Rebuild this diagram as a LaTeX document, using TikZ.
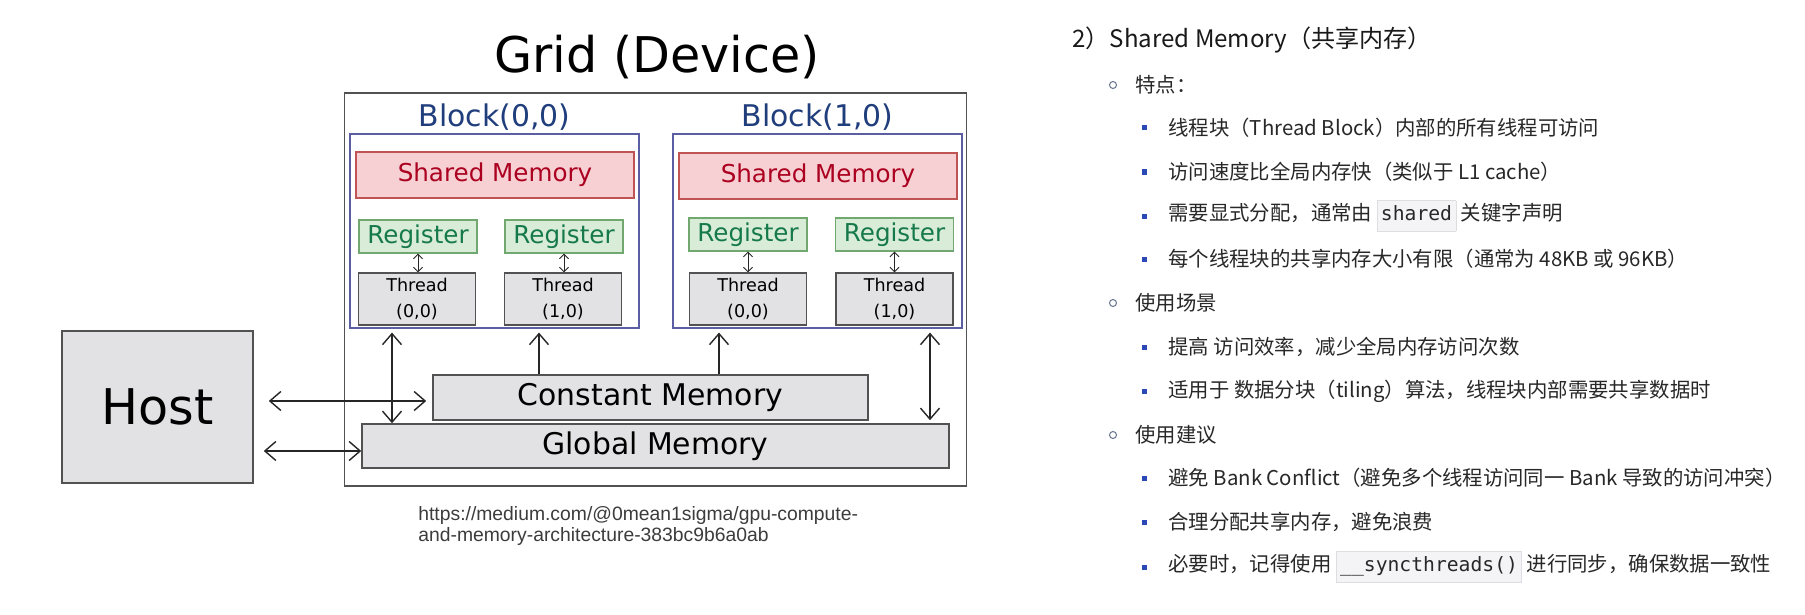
\documentclass[tikz,border=0pt]{standalone}
\usepackage{fontspec}
\usetikzlibrary{arrows.meta, positioning, calc}
\setmainfont{DejaVu Sans}
\newfontfamily\cjkfont{Noto Sans CJK SC}
\newfontfamily\urlfont{Liberation Sans}
\newfontfamily\codefont{DejaVu Sans Mono}

\definecolor{blockblue}{RGB}{92, 94, 164}
\definecolor{labelblue}{RGB}{32, 62, 124}
\definecolor{shfill}{RGB}{246, 208, 210}
\definecolor{shline}{RGB}{192, 84, 84}
\definecolor{shtext}{RGB}{172, 0, 32}
\definecolor{regfill}{RGB}{216, 236, 216}
\definecolor{regline}{RGB}{112, 168, 112}
\definecolor{regtext}{RGB}{22, 122, 72}
\definecolor{memfill}{RGB}{226, 226, 228}
\definecolor{memline}{RGB}{82, 82, 82}
\definecolor{bullblue}{RGB}{42, 72, 182}
\definecolor{ringgray}{RGB}{110, 122, 150}
\definecolor{codebg}{RGB}{244, 244, 246}
\definecolor{codeline}{RGB}{222, 222, 226}
\definecolor{bodytext}{RGB}{40, 40, 40}
\definecolor{urlgray}{RGB}{60, 60, 60}

\newcommand{\codechip}[1]{{\setlength{\fboxsep}{2pt}\fcolorbox{codeline}{codebg}{\codefont\fontsize{11.2}{13}\selectfont\strut #1}}}

\tikzset{
  gridbox/.style={draw=memline, line width=0.9pt, minimum width=12.44cm, minimum height=7.86cm, inner sep=0pt},
  blockbox/.style={draw=blockblue, line width=0.7pt, minimum width=5.78cm, minimum height=3.88cm, inner sep=0pt},
  blocklabel/.style={text=labelblue, font=\fontsize{17}{20}\selectfont, inner sep=0pt},
  sharedbox/.style={draw=shline, fill=shfill, line width=0.8pt, minimum width=5.56cm, minimum height=0.92cm, text=shtext, font=\fontsize{14}{16}\selectfont, inner sep=0pt},
  regbox/.style={draw=regline, fill=regfill, line width=0.8pt, minimum width=2.36cm, minimum height=0.66cm, text=regtext, font=\fontsize{14}{16}\selectfont, inner sep=0pt},
  threadbox/.style={draw=memline, fill=memfill, line width=0.8pt, minimum width=2.34cm, minimum height=1.04cm, align=center, font=\fontsize{10}{15}\selectfont, inner sep=0pt},
  membox/.style={draw=memline, fill=memfill, line width=0.9pt, minimum height=0.9cm, font=\fontsize{17}{20}\selectfont, inner sep=0pt},
  link/.style={line width=0.8pt, draw=black!85, >={Straight Barb[length=2.2mm,width=3.8mm]}},
  tinylink/.style={line width=0.5pt, draw=black!85, >={Straight Barb[length=0.9mm,width=1.8mm]}},
  ring/.style={circle, draw=ringgray, line width=0.6pt, minimum size=0.14cm, inner sep=0pt},
  square/.style={rectangle, fill=bullblue, minimum size=0.1cm, inner sep=0pt},
  itemtext/.style={anchor=west, text=bodytext, font=\cjkfont\fontsize{11.6}{14}\selectfont, inner sep=0pt},
}

\begin{document}
\begin{tikzpicture}
  \fill[white] (0,0) rectangle (36.1,-12.3);
  \useasboundingbox (0,0) rectangle (36.1,-12.3);

  % Title
  \node[anchor=base, font=\fontsize{28}{32}\selectfont, inner sep=0pt] (title) at (13.14,-1.46) {Grid (Device)};

  % Device and blocks
  \node[gridbox] (grid) at (13.11,-5.79) {};
  \node[blockbox] (blk00) at (9.89,-4.62) {};
  \node[blockbox] (blk10) at (16.35,-4.62) {};
  \node[blocklabel] (lbl00) at (9.89,-2.34) {Block(0,0)};
  \node[blocklabel] (lbl10) at (16.35,-2.34) {Block(1,0)};

  % Shared memory
  \node[sharedbox] (sm00) at (9.9,-3.5) {Shared Memory};
  \node[sharedbox] (sm10) at (16.36,-3.52) {Shared Memory};

  % Registers and threads
  \node[regbox] (reg00) at (8.36,-4.73) {Register};
  \node[regbox] (reg01) at (11.28,-4.73) {Register};
  \node[regbox] (reg10) at (14.96,-4.69) {Register};
  \node[regbox] (reg11) at (17.89,-4.69) {Register};
  \node[threadbox] (thr00) at (8.34,-5.98) {Thread\\(0,0)};
  \node[threadbox] (thr01) at (11.26,-5.98) {Thread\\(1,0)};
  \node[threadbox] (thr10) at (14.96,-5.98) {Thread\\(0,0)};
  \node[threadbox] (thr11) at (17.89,-5.98) {Thread\\(1,0)};
  \draw[tinylink, <->] (reg00.south) -- (reg00.south |- thr00.north);
  \draw[tinylink, <->] (reg01.south) -- (reg01.south |- thr01.north);
  \draw[tinylink, <->] (reg10.south) -- (reg10.south |- thr10.north);
  \draw[tinylink, <->] (reg11.south) -- (reg11.south |- thr11.north);

  % Constant and global memory
  \node[membox, minimum width=8.7cm] (cmem) at (13.01,-7.95) {Constant Memory};
  \node[membox, minimum width=11.74cm, minimum height=0.88cm] (gmem) at (13.11,-8.92) {Global Memory};

  % Host
  \node[draw=memline, fill=memfill, line width=0.9pt, minimum width=3.82cm, minimum height=3.04cm, font=\fontsize{28}{32}\selectfont] (host) at (3.15,-8.14) {Host};

  % Host links
  \draw[link, <->] ([xshift=0.3cm, yshift=-0.07cm]host.east |- cmem.west) -- ([xshift=-0.12cm, yshift=-0.07cm]cmem.west);
  \draw[link, <->] ([xshift=0.2cm, yshift=-0.1cm]host.east |- gmem.west) -- ([yshift=-0.1cm]gmem.west);

  % Device links
  \draw[link, <->] (7.84,0 |- blk00.south) ++(0,-0.08) -- (7.84,0 |- gmem.north);
  \draw[link, ->] (10.78,0 |- cmem.north) -- ([yshift=-0.08cm]10.78,0 |- blk00.south);
  \draw[link, ->] (14.38,0 |- cmem.north) -- ([yshift=-0.08cm]14.38,0 |- blk10.south);
  \draw[link, <->] (18.6,0 |- blk10.south) ++(0,-0.08) -- ([yshift=0.06cm]18.6,0 |- gmem.north);

  % Source
  \node[anchor=west, align=left, text=urlgray, font=\urlfont\fontsize{11}{12.5}\selectfont, inner sep=0pt] (src) at (8.36,-10.52) {https://medium.com/@0mean1sigma/gpu-compute-\\and-memory-architecture-383bc9b6a0ab};

  % Notes
  \node[anchor=west, text=black!90, font=\cjkfont\fontsize{13.7}{16}\selectfont, inner sep=0pt] (head) at (21.44,-0.8) {2）Shared Memory（共享内存）};

  \node[ring] (r1) at (22.26,-1.70) {};
  \node[itemtext] (t1) at (22.7,-1.70) {特点：};
  \node[square] (s1) at (22.88,-2.56) {};
  \node[itemtext] (t11) at (23.36,-2.56) {线程块（Thread Block）内部的所有线程可访问};
  \node[square] (s2) at (22.88,-3.44) {};
  \node[itemtext] (t12) at (23.36,-3.44) {访问速度比全局内存快（类似于 L1 cache）};
  \node[square] (s3) at (22.88,-4.32) {};
  \node[itemtext] (t13) at (23.36,-4.32) {需要显式分配，通常由 \codechip{shared} 关键字声明};
  \node[square] (s4) at (22.88,-5.18) {};
  \node[itemtext] (t14) at (23.36,-5.18) {每个线程块的共享内存大小有限（通常为 48KB 或 96KB）};

  \node[ring] (r2) at (22.26,-6.06) {};
  \node[itemtext] (t2) at (22.7,-6.06) {使用场景};
  \node[square] (s5) at (22.88,-6.94) {};
  \node[itemtext] (t21) at (23.36,-6.94) {提高 访问效率，减少全局内存访问次数};
  \node[square] (s6) at (22.88,-7.82) {};
  \node[itemtext] (t22) at (23.36,-7.82) {适用于 数据分块（tiling）算法，线程块内部需要共享数据时};

  \node[ring] (r3) at (22.26,-8.70) {};
  \node[itemtext] (t3) at (22.7,-8.70) {使用建议};
  \node[square] (s7) at (22.88,-9.56) {};
  \node[itemtext] (t31) at (23.36,-9.56) {避免 Bank Conflict（避免多个线程访问同一 Bank 导致的访问冲突）};
  \node[square] (s8) at (22.88,-10.44) {};
  \node[itemtext] (t32) at (23.36,-10.44) {合理分配共享内存，避免浪费};
  \node[square] (s9) at (22.88,-11.34) {};
  \node[itemtext] (t33) at (23.36,-11.34) {必要时，记得使用 \codechip{\_\_syncthreads()} 进行同步，确保数据一致性};
\end{tikzpicture}
\end{document}
